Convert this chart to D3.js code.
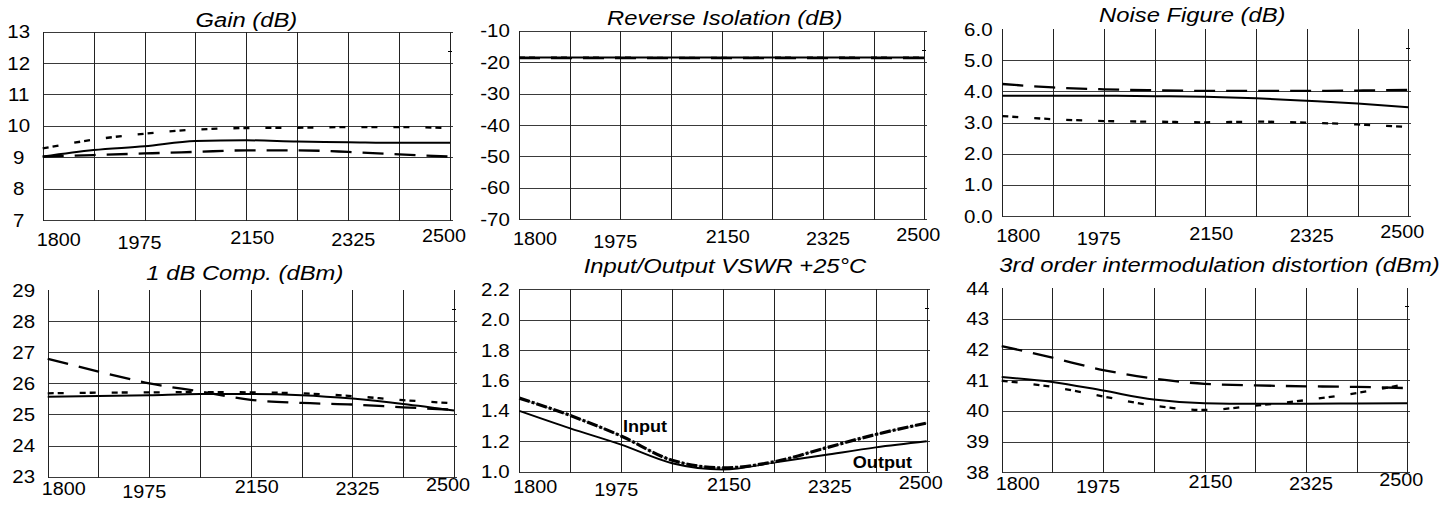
<!DOCTYPE html>
<html>
<head>
<meta charset="utf-8">
<script src="https://cdn.jsdelivr.net/npm/d3@7"></script>
<style>
  html, body { margin: 0; padding: 0; background: #fff; }
  svg { display: block; }
  text { font-family: "Liberation Sans", Arial, Helvetica, sans-serif; fill: #000; }
</style>
</head>
<body>
<svg id="chart" width="1456" height="510"></svg>
<script>
// ---------------- DATA ----------------
const freqs = [1800, 1887.5, 1975, 2062.5, 2150, 2237.5, 2325, 2412.5, 2500];
const xTickLabels = [1800, 1975, 2150, 2325, 2500];

// Gain (dB)
const gainTicks = [7, 8, 9, 10, 11, 12, 13];
const gainSolid = [9.02, 9.23, 9.35, 9.52, 9.54, 9.50, 9.48, 9.46, 9.46];
const gainShort = [9.28, 9.56, 9.75, 9.88, 9.93, 9.94, 9.96, 9.96, 9.93];
const gainLong  = [9.02, 9.07, 9.12, 9.17, 9.22, 9.22, 9.17, 9.09, 9.02];

// Reverse Isolation (dB)
const isoTicks = [-70, -60, -50, -40, -30, -20, -10];
const isoSolid = [-18.5, -18.5, -18.5, -18.55, -18.55, -18.5, -18.5, -18.5, -18.5];
const isoShort = [-18.6, -18.6, -18.6, -18.65, -18.65, -18.6, -18.6, -18.6, -18.6];
const isoLong  = [-18.7, -18.7, -18.7, -18.7, -18.7, -18.7, -18.7, -18.7, -18.7];

// Noise Figure (dB)
const nfTicks = [0, 1, 2, 3, 4, 5, 6];
const nfLong  = [4.24, 4.13, 4.07, 4.04, 4.02, 4.02, 4.02, 4.03, 4.05];
const nfSolid = [3.86, 3.86, 3.86, 3.85, 3.83, 3.78, 3.70, 3.61, 3.49];
const nfShort = [3.21, 3.11, 3.05, 3.03, 3.01, 3.03, 3.00, 2.94, 2.86];

// 1 dB Comp. (dBm)
const p1Ticks = [23, 24, 25, 26, 27, 28, 29];
const p1Solid = [25.57, 25.59, 25.62, 25.66, 25.66, 25.62, 25.51, 25.34, 25.13];
const p1Short = [25.68, 25.70, 25.71, 25.72, 25.71, 25.68, 25.59, 25.46, 25.36];
const p1Long  = [26.79, 26.38, 26.00, 25.74, 25.47, 25.37, 25.32, 25.23, 25.15];

// Input/Output VSWR +25°C
const vswrTicks  = [1.0, 1.2, 1.4, 1.6, 1.8, 2.0, 2.2];
const vswrInput  = [1.484, 1.37, 1.235, 1.075, 1.025, 1.065, 1.155, 1.245, 1.32];
const vswrOutput = [1.40, 1.285, 1.178, 1.056, 1.015, 1.06, 1.11, 1.16, 1.20];
const vswrNotes  = [{ text: "Input", f: 1978, v: 1.263 }, { text: "Output", f: 2373, v: 1.022 }];

// 3rd order intermodulation distortion (dBm)
const imdTicks = [38, 39, 40, 41, 42, 43, 44];
const imdLong  = [42.11, 41.73, 41.33, 41.05, 40.88, 40.83, 40.80, 40.78, 40.74];
const imdSolid = [41.10, 40.94, 40.66, 40.37, 40.25, 40.23, 40.23, 40.24, 40.25];
const imdShort = [40.98, 40.78, 40.47, 40.17, 40.03, 40.17, 40.35, 40.58, 40.88];

// ---------------- STYLE / LAYOUT ----------------
const styles = {
  solid: { width: 2,   dash: null },
  long:  { width: 2.3, dash: "21 11" },
  short: { width: 2.3, dash: "6 4 6 16" },
  input: { width: 3.2, dash: "11 2 3 2", under: "#9a9a9a" }
};

const layout = {
  panels: [
    { l: 42.7,   r: 450,    t: 31.7,  b: 220,   titleY: 26.7,  titleDx: 0,   topLine: true,  labelDy: 25.5 },
    { l: 519,    r: 924.3,  t: 30.7,  b: 219.3, titleY: 25,    titleDx: 3,   topLine: true,  labelDy: 25.5 },
    { l: 1002.3, r: 1408.3, t: 29.2,  b: 216,   titleY: 21.7,  titleDx: -13, topLine: false, labelDy: 25.5 },
    { l: 47.7,   r: 454,    t: 290,   b: 476.7, titleY: 280,   titleDx: -6,  topLine: false, labelDy: 18 },
    { l: 519.3,  r: 926.7,  t: 289.3, b: 471.7, titleY: 273.3, titleDx: 2,   topLine: true,  labelDy: 21 },
    { l: 1001.7, r: 1407.3, t: 288,   b: 472.3, titleY: 271.7, titleDx: 15,  topLine: false, labelDy: 17.5 }
  ],
  xLabelDx: [16, -5, 6, 5, -6],
  xLabelDy: [0, 3.5, -2, 0, -3.5],
  yLabelGap: 24,
  titleFont: 19.5, titleSx: 1.22,
  xFont: 18, xSx: 1.1,
  yFont: 17.5, ySx: 1.17,
  noteFont: 16, noteSx: 1.13
};

const hyphen = f => v => f(v).replace("\u2212", "-");

const panels = [
  { title: "Gain (dB)", ticks: gainTicks, fmt: hyphen(d3.format("d")),
    series: [{ v: gainSolid, s: "solid" }, { v: gainLong, s: "long" }, { v: gainShort, s: "short" }] },
  { title: "Reverse Isolation (dB)", ticks: isoTicks, fmt: hyphen(d3.format("d")),
    series: [{ v: isoLong, s: "long" }, { v: isoShort, s: "short" }, { v: isoSolid, s: "solid" }] },
  { title: "Noise Figure (dB)", ticks: nfTicks, fmt: hyphen(d3.format(".1f")),
    series: [{ v: nfSolid, s: "solid" }, { v: nfLong, s: "long" }, { v: nfShort, s: "short" }] },
  { title: "1 dB Comp. (dBm)", ticks: p1Ticks, fmt: hyphen(d3.format("d")),
    series: [{ v: p1Solid, s: "solid" }, { v: p1Long, s: "long" }, { v: p1Short, s: "short" }] },
  { title: "Input/Output VSWR +25\u00B0C", ticks: vswrTicks, fmt: hyphen(d3.format(".1f")),
    series: [{ v: vswrOutput, s: "solid" }, { v: vswrInput, s: "input" }], notes: vswrNotes },
  { title: "3rd order intermodulation distortion (dBm)", ticks: imdTicks, fmt: hyphen(d3.format("d")),
    series: [{ v: imdSolid, s: "solid" }, { v: imdLong, s: "long" }, { v: imdShort, s: "short" }] }
];

// ---------------- DRAW ----------------
const svg = d3.select("#chart");

function stretchedText(g, str, x, y, size, sx, anchor, opts = {}) {
  const t = g.append("text")
    .attr("transform", `translate(${x},${y}) scale(${sx},1)`)
    .attr("text-anchor", anchor)
    .style("font-size", size + "px")
    .text(str);
  if (opts.italic) t.style("font-style", "italic");
  if (opts.bold) t.style("font-weight", "bold");
  return t;
}

const snap = v => Math.round(v) + 0.5;

panels.forEach((p, i) => {
  const L = layout.panels[i];
  const g = svg.append("g");
  const x = d3.scaleLinear().domain([freqs[0], freqs[freqs.length - 1]]).range([L.l, L.r]);
  const y = d3.scaleLinear().domain(d3.extent(p.ticks)).range([L.b, L.t]);

  // grid
  const grid = g.append("g").attr("shape-rendering", "crispEdges");
  const yMax = d3.max(p.ticks);
  grid.selectAll("line.h")
    .data(p.ticks.filter(t => L.topLine || t !== yMax))
    .join("line")
    .attr("x1", snap(x(freqs[0]))).attr("x2", snap(x(freqs[freqs.length - 1])) + 2)
    .attr("y1", d => snap(y(d))).attr("y2", d => snap(y(d)))
    .attr("stroke", "#3a3a3a").attr("stroke-width", 1);
  grid.selectAll("line.v")
    .data(freqs)
    .join("line")
    .attr("x1", d => snap(x(d))).attr("x2", d => snap(x(d)))
    .attr("y1", snap(y(yMax)) - 1).attr("y2", snap(y(d3.min(p.ticks))))
    .attr("stroke", "#222").attr("stroke-width", 1);
  // small tick mark near top right edge
  const tickY = y(yMax) + 0.6 * (y(p.ticks[p.ticks.length - 2]) - y(yMax));
  grid.append("line")
    .attr("x1", snap(x(freqs[freqs.length - 1])) - 3).attr("x2", snap(x(freqs[freqs.length - 1])) + 1)
    .attr("y1", snap(tickY)).attr("y2", snap(tickY))
    .attr("stroke", "#000").attr("stroke-width", 1);

  // series
  const line = d3.line().x((d, k) => x(freqs[k])).y(d => y(d)).curve(d3.curveMonotoneX);
  p.series.forEach(s => {
    const st = styles[s.s];
    if (st.under) {
      g.append("path").attr("d", line(s.v)).attr("fill", "none")
        .attr("stroke", st.under).attr("stroke-width", 1.2);
    }
    g.append("path").attr("d", line(s.v)).attr("fill", "none")
      .attr("stroke", "#000").attr("stroke-width", st.width)
      .attr("stroke-dasharray", st.dash)
      .attr("stroke-linejoin", "round");
  });

  // y tick labels
  p.ticks.forEach(t => {
    stretchedText(g, p.fmt(t), L.l - layout.yLabelGap, y(t) + 6.5, layout.yFont, layout.ySx, "middle");
  });

  // x tick labels
  xTickLabels.forEach((f, k) => {
    stretchedText(g, String(f), x(f) + layout.xLabelDx[k], L.b + L.labelDy + layout.xLabelDy[k],
      layout.xFont, layout.xSx, "middle");
  });

  // title
  stretchedText(g, p.title, (L.l + L.r) / 2 + L.titleDx, L.titleY, layout.titleFont, layout.titleSx,
    "middle", { italic: true });

  // annotations
  (p.notes || []).forEach(n => {
    stretchedText(g, n.text, x(n.f), y(n.v), layout.noteFont, layout.noteSx, "start", { bold: true });
  });
});
</script>
</body>
</html>
